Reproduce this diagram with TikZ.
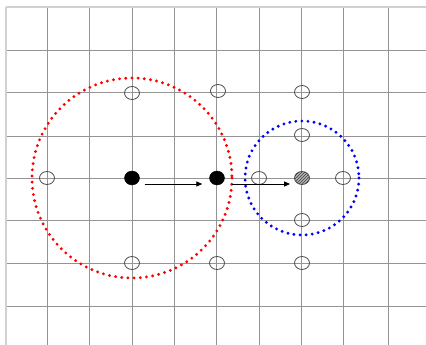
\documentclass[tikz,border=0pt]{standalone}
\usetikzlibrary{shapes.geometric,arrows.meta,patterns}
\begin{document}
\begin{tikzpicture}[x=1pt,y=-1pt,
  gridline/.style={draw=black!42, line width=1pt},
  edgeline/.style={draw=black!18, line width=1.1pt},
  site/.style={ellipse, draw=black!70, line width=0.8pt, minimum width=15pt, minimum height=13pt, inner sep=0pt},
  particle/.style={ellipse, fill=black, draw=black, minimum width=15pt, minimum height=14pt, inner sep=0pt},
  target/.style={site, fill=black!30, postaction={pattern=north east lines, pattern color=black!75}},
  move/.style={draw=black, line width=0.8pt, -{Triangle[length=6pt,width=5pt]}},
  reddots/.style={draw=red, line width=3.2pt, line cap=round, dash pattern=on 0pt off 6.2pt},
  bluedots/.style={draw=blue, line width=3.2pt, line cap=round, dash pattern=on 0pt off 6.1pt}
]
\useasboundingbox (0,0) rectangle (426,345);

% lattice
\foreach \x in {47,89,132,174,216,259,301,343,388}
  \draw[gridline] (\x,7) -- (\x,345);
\foreach \y in {51,93,136,178,220,263,306}
  \draw[gridline] (6,\y) -- (426,\y);
\draw[edgeline] (6,7) -- (6,345);
\draw[edgeline] (6,7) -- (426,7);

% occupied sites and the target site
\node[particle] (p1) at (132,178) {};
\node[particle] (p2) at (217,178) {};
\node[target] (t) at (302,178) {};

% search radii
\draw[reddots] (p1.center) circle[radius=100];
\draw[bluedots] (t.center) circle[radius=57];

% empty sites
\node[site] (s1) at (132,93) {};
\node[site] (s2) at (218,91) {};
\node[site] (s3) at (302,92) {};
\node[site] (s4) at (47,178) {};
\node[site] (s5) at (259,178) {};
\node[site] (s6) at (343,178) {};
\node[site] (s7) at (302,135) {};
\node[site] (s8) at (302,220) {};
\node[site] (s9) at (132,263) {};
\node[site] (s10) at (217,263) {};
\node[site] (s11) at (302,263) {};

% hops
\draw[move] ([shift={(5pt,-6pt)}]p1.east) -- ([shift={(-7pt,-6pt)}]p2.west);
\draw[move] ([shift={(7pt,-6pt)}]p2.east) -- ([shift={(-4pt,-6pt)}]t.west);
\end{tikzpicture}
\end{document}
